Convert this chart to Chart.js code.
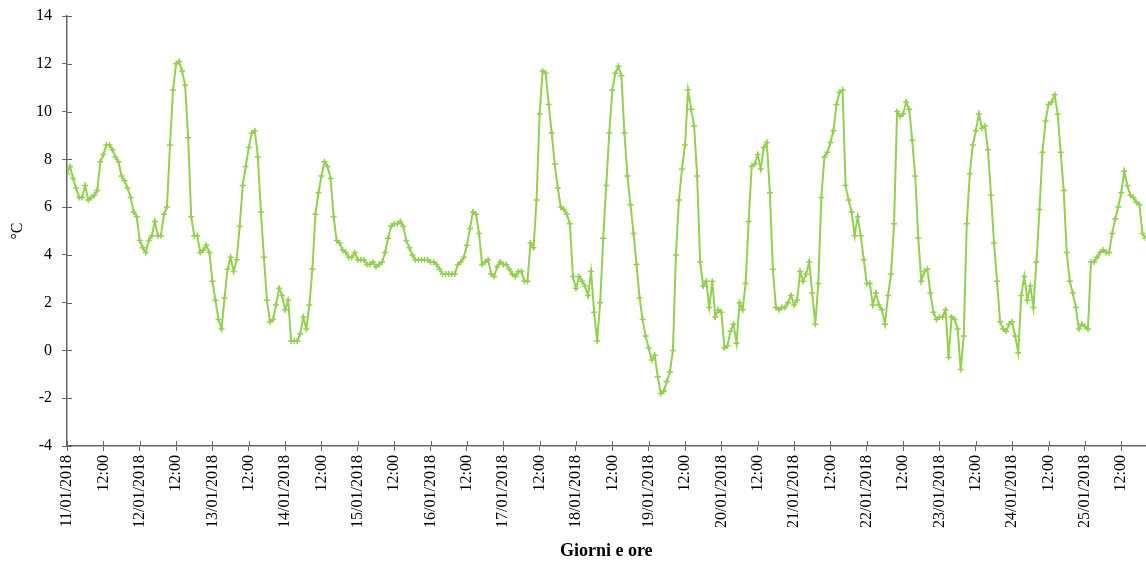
<!DOCTYPE html>
<html>
<head>
<meta charset="utf-8">
<script src="https://cdn.jsdelivr.net/npm/chart.js@4/dist/chart.umd.min.js"></script>
<style>
  html, body { margin: 0; padding: 0; background: #fff; overflow: hidden; }
  canvas { display: block; }
</style>
</head>
<body>
<!-- a few px wider than the window: chart.js keeps ~5px on the right, the reference runs to the edge -->
<canvas id="myChart" width="1151" height="562"></canvas>
<script>
'use strict';
// tick labels
let dates = ['11/01/2018', '12/01/2018', '13/01/2018', '14/01/2018', '15/01/2018',
    '16/01/2018', '17/01/2018', '18/01/2018', '19/01/2018', '20/01/2018',
    '21/01/2018', '22/01/2018', '23/01/2018', '24/01/2018', '25/01/2018'];
let noonLabel = '12:00';

// hourly temperatures (°C), one array per day, starting at 00:00
let g11 = [7.4, 7.7, 7.2, 6.8, 6.4, 6.4, 6.9, 6.3, 6.4, 6.5, 6.7, 7.9, 8.2, 8.6, 8.6, 8.4, 8.1, 7.9, 7.3, 7.1, 6.8, 6.4, 5.8, 5.6];
let g12 = [4.6, 4.3, 4.1, 4.6, 4.8, 5.4, 4.8, 4.8, 5.7, 6.0, 8.6, 10.9, 12.0, 12.1, 11.7, 11.1, 8.9, 5.6, 4.8, 4.8, 4.1, 4.2, 4.4, 4.1];
let g13 = [2.9, 2.1, 1.3, 0.9, 2.2, 3.4, 3.9, 3.3, 3.8, 5.2, 6.9, 7.7, 8.5, 9.1, 9.2, 8.1, 5.8, 3.9, 2.1, 1.2, 1.3, 1.9, 2.6, 2.3];
let g14 = [1.7, 2.1, 0.4, 0.4, 0.4, 0.7, 1.4, 0.9, 1.9, 3.4, 5.7, 6.6, 7.3, 7.9, 7.7, 7.2, 5.6, 4.6, 4.5, 4.2, 4.1, 3.9, 3.9, 4.1];
let g15 = [3.8, 3.8, 3.8, 3.6, 3.6, 3.7, 3.5, 3.6, 3.7, 4.1, 4.7, 5.2, 5.3, 5.3, 5.4, 5.2, 4.6, 4.3, 4.0, 3.8, 3.8, 3.8, 3.8, 3.8];
let g16 = [3.7, 3.7, 3.6, 3.4, 3.2, 3.2, 3.2, 3.2, 3.2, 3.6, 3.7, 3.9, 4.4, 5.1, 5.8, 5.7, 4.9, 3.6, 3.7, 3.8, 3.2, 3.1, 3.5, 3.7];
let g17 = [3.6, 3.6, 3.4, 3.2, 3.1, 3.3, 3.3, 2.9, 2.9, 4.5, 4.3, 6.3, 9.9, 11.7, 11.6, 10.3, 9.1, 7.8, 6.8, 6.0, 5.9, 5.7, 5.3, 3.1];
let g18 = [2.6, 3.1, 2.9, 2.7, 2.3, 3.3, 1.6, 0.4, 2.0, 4.7, 6.9, 9.1, 10.9, 11.6, 11.9, 11.5, 9.1, 7.3, 6.1, 4.9, 3.6, 2.2, 1.3, 0.6];
let g19 = [0.1, -0.4, -0.2, -1.1, -1.8, -1.7, -1.3, -0.9, 0.0, 4.0, 6.3, 7.6, 8.6, 10.9, 10.1, 9.4, 7.3, 3.7, 2.7, 2.9, 1.8, 2.9, 1.4, 1.7];
let g20 = [1.6, 0.1, 0.2, 0.8, 1.1, 0.3, 2.0, 1.7, 2.8, 5.4, 7.7, 7.8, 8.2, 7.6, 8.5, 8.7, 6.6, 3.4, 1.8, 1.7, 1.8, 1.8, 2.0, 2.3];
let g21 = [1.9, 2.1, 3.3, 2.9, 3.2, 3.7, 2.4, 1.1, 2.8, 6.4, 8.1, 8.3, 8.7, 9.2, 10.3, 10.8, 10.9, 6.9, 6.3, 5.8, 4.8, 5.6, 4.8, 3.8];
let g22 = [2.8, 2.8, 1.9, 2.4, 1.9, 1.7, 1.1, 2.3, 3.2, 5.3, 10.0, 9.8, 9.9, 10.4, 10.1, 8.8, 7.3, 4.7, 2.9, 3.3, 3.4, 2.4, 1.6, 1.3];
let g23 = [1.4, 1.4, 1.7, -0.3, 1.4, 1.3, 0.9, -0.8, 0.6, 5.3, 7.4, 8.6, 9.2, 9.9, 9.3, 9.4, 8.4, 6.5, 4.5, 2.9, 1.2, 0.9, 0.8, 1.1];
let g24 = [1.2, 0.6, -0.1, 2.3, 3.1, 2.1, 2.7, 1.8, 3.7, 5.9, 8.3, 9.6, 10.3, 10.4, 10.7, 9.9, 8.3, 6.7, 4.1, 2.9, 2.4, 1.8, 0.9, 1.1];
let g25 = [1.0, 0.9, 3.7, 3.7, 3.9, 4.1, 4.2, 4.1, 4.1, 4.9, 5.5, 6.0, 6.6, 7.5, 6.9, 6.5, 6.4, 6.2, 6.1, 4.9, 4.7];

let days = [g11, g12, g13, g14, g15, g16, g17, g18, g19, g20, g21, g22, g23, g24, g25];

let points = [];
for (let d = 0; d < days.length; d++) {
    for (let h = 0; h < days[d].length; h++) {
        points.push({ x: d * 24 + h, y: days[d][h] });
    }
}

let axisColor = '#666666';
let green = '#92D050';
let font = 'Liberation Serif';

// excel style ticks crossing the axis line
let crossTicks = {
    id: 'crossTicks',
    afterDraw(chart) {
        let ctx = chart.ctx;
        let xs = chart.scales.x;
        let ys = chart.scales.y;
        ctx.save();
        ctx.strokeStyle = axisColor;
        ctx.lineWidth = 1;
        ctx.beginPath();
        xs.ticks.forEach(function (t) {
            let px = Math.round(xs.getPixelForValue(t.value)) + 0.5;
            ctx.moveTo(px, xs.top);
            ctx.lineTo(px, xs.top - 5);
        });
        ys.ticks.forEach(function (t) {
            let py = Math.round(ys.getPixelForValue(t.value)) + 0.5;
            ctx.moveTo(ys.right, py);
            ctx.lineTo(ys.right + 5, py);
        });
        ctx.stroke();
        ctx.restore();
    }
};

let ctx = document.getElementById('myChart').getContext('2d');
let myChart = new Chart(ctx, {
    type: 'line',
    data: {
        datasets: [{
            data: points,
            borderColor: green,
            backgroundColor: green,
            borderWidth: 2,
            pointStyle: 'cross',
            pointRadius: 3,
            pointBorderWidth: 1.5,
            pointBorderColor: green,
            tension: 0
        }]
    },
    plugins: [crossTicks],
    options: {
        responsive: false,
        animation: false,
        layout: { padding: { top: 16, right: 0, left: 0, bottom: 0 } },
        plugins: {
            legend: { display: false },
            tooltip: { enabled: false }
        },
        scales: {
            x: {
                type: 'linear',
                min: 0,
                max: points.length - 1,
                afterBuildTicks: function (scale) {
                    scale.ticks = [];
                    for (let v = 0; v <= scale.max; v += 12) scale.ticks.push({ value: v });
                },
                afterFit: function (scale) {
                    scale.height = 116;
                    scale.paddingRight = 0;
                    scale.paddingLeft = 0;
                },
                grid: { drawOnChartArea: false, drawTicks: true, tickLength: 5, color: axisColor },
                border: { color: axisColor, width: 1.5 },
                ticks: {
                    autoSkip: false,
                    minRotation: 90,
                    maxRotation: 90,
                    padding: 4,
                    color: '#000',
                    font: { family: font, size: 16 },
                    callback: function (value) {
                        if (value % 24 === 0) return dates[value / 24];
                        return noonLabel;
                    }
                },
                title: {
                    display: true,
                    text: 'Giorni e ore',
                    color: '#000',
                    font: { family: font, size: 18, weight: 'bold' },
                    padding: { top: 4, bottom: 0 }
                }
            },
            y: {
                min: -4,
                max: 14,
                afterFit: function (scale) {
                    scale.width = 67;
                    scale.paddingTop = 0;
                    scale.paddingBottom = 0;
                },
                grid: { drawOnChartArea: false, drawTicks: true, tickLength: 5, color: axisColor },
                border: { color: axisColor, width: 1.5 },
                ticks: {
                    stepSize: 2,
                    padding: 10,
                    color: '#000',
                    font: { family: font, size: 16 }
                },
                title: {
                    display: true,
                    text: '°C',
                    color: '#000',
                    font: { family: font, size: 16 },
                    padding: { top: 8, bottom: 0 }
                }
            }
        }
    }
});
</script>
</body>
</html>
